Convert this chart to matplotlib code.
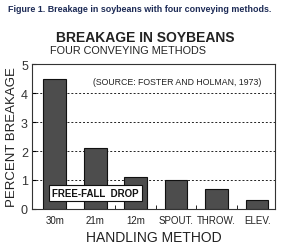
import matplotlib.pyplot as plt

methods = ['30m', '21m', '12m', 'SPOUT.', 'THROW.', 'ELEV.']
breakage = [4.5, 2.1, 1.1, 1.0, 0.7, 0.3]
yticks = [0, 1, 2, 3, 4, 5]

plt.rcParams['font.family'] = ['Liberation Sans', 'DejaVu Sans']

fig = plt.figure(figsize=(2.84, 2.53), dpi=100)
ax = fig.add_axes([0.113, 0.170, 0.855, 0.573])

ax.bar(range(len(methods)), breakage, width=0.56, color='#4d4d4d',
       edgecolor='#111111', linewidth=0.8, zorder=3)

for y in yticks[1:-1]:
    ax.axhline(y, color='#222222', linestyle=(0, (2, 2)), linewidth=0.7, zorder=1)

ax.set_xlim(-0.56, 5.44)
ax.set_ylim(0, 5)
ax.set_yticks(yticks)
ax.set_yticklabels([str(v) for v in yticks], fontsize=9, color='#333333')
ax.set_xticks(range(len(methods)))
ax.set_xticklabels(methods, fontsize=7, color='#222222')
ax.tick_params(axis='x', length=0, pad=4)
ax.tick_params(axis='y', length=3, direction='in', pad=3)
ax.set_xticks([1.5, 2.5, 3.5, 4.5], minor=True)
ax.tick_params(axis='x', which='minor', length=3, direction='in')

for s in ax.spines.values():
    s.set_linewidth(0.8)
    s.set_color('#333333')

ax.set_ylabel('PERCENT BREAKAGE', fontsize=9.5, color='#222222', labelpad=2)
ax.set_xlabel('HANDLING METHOD', fontsize=10, color='#222222', labelpad=4)

ax.text(0.25, 0.88, '(SOURCE: FOSTER AND HOLMAN, 1973)', transform=ax.transAxes,
        fontsize=6.3, color='#222222', va='center', ha='left')
ax.text(0.082, 0.11, 'FREE-FALL  DROP', transform=ax.transAxes, fontsize=7,
        fontweight='bold', color='#111111', va='center', ha='left', zorder=5,
        bbox=dict(boxstyle='square,pad=0.35', facecolor='white',
                  edgecolor='#111111', linewidth=0.8))

fig.text(0.028, 0.962, 'Figure 1. Breakage in soybeans with four conveying methods.',
         fontsize=6.4, fontweight='bold', color='#1c2a55', va='center')
fig.text(0.51, 0.85, 'BREAKAGE IN SOYBEANS', fontsize=10, fontweight='bold',
         color='#222222', ha='center', va='center')
fig.text(0.45, 0.797, 'FOUR CONVEYING METHODS', fontsize=7.8,
         color='#222222', ha='center', va='center')

fig.savefig('out.png', dpi=100)
